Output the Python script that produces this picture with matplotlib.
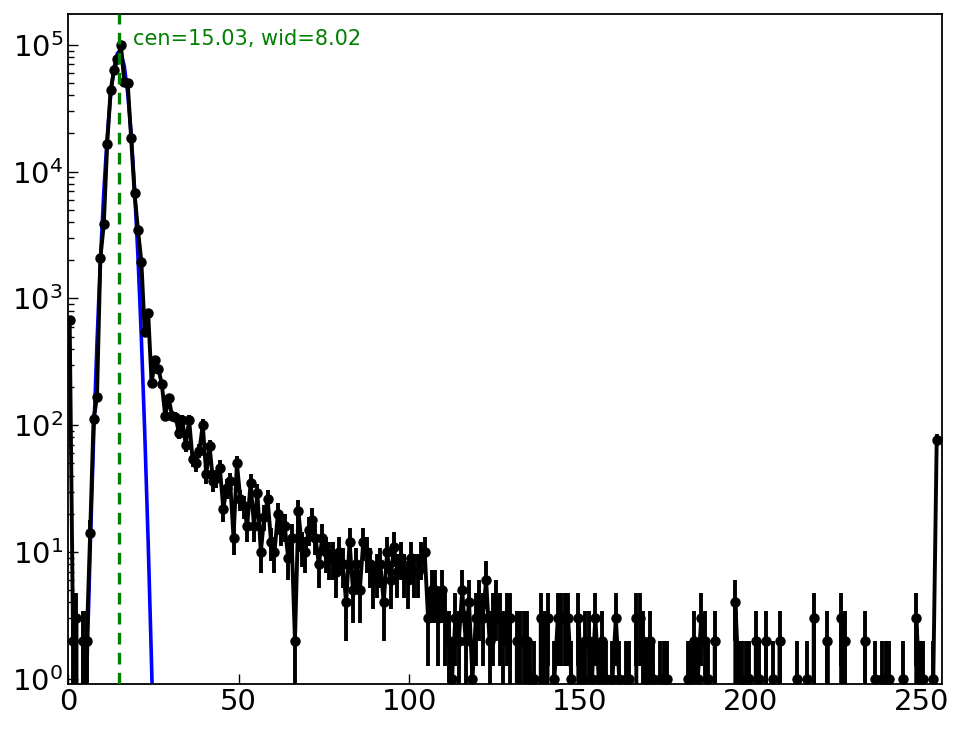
import numpy as np
import matplotlib
matplotlib.use("Agg")
import matplotlib.pyplot as plt

# histogram counts, one per bin (bin centres at i + 0.5)
counts_peak = [680, 2, 3, 0, 2, 2, 14, 111, 167, 2080,
               3860, 16600, 43800, 63100, 76700, 100000, 50900, 50100, 18400, 6740,
               3480, 1950, 540, 770, 216, 325, 278, 210, 118, 164,
               118, 117, 87, 110, 70, 110, 54, 50, 63, 101,
               41, 68, 36, 38, 46, 22, 32, 36, 13, 50]
counts_mid = [26, 23, 16, 35, 16, 29, 10, 19, 26, 12,
              10, 20, 15, 16, 9, 13, 2, 21, 11, 10,
              15, 18, 13, 8, 13, 10, 9, 9, 7, 10,
              8, 4, 12, 5, 8, 5, 12, 10, 8, 6,
              7, 8, 4, 10, 6, 11, 7, 9, 7, 6,
              9, 7, 7, 9, 10, 3, 5, 5, 3, 5]
counts_tail1 = [3, 2, 1, 3, 2, 5, 2, 4, 1, 3,
                4, 3, 6, 2, 3, 4, 3, 2, 3, 3,
                0, 2, 2, 2, 2, 1, 1, 0, 3, 2,
                3, 0, 1, 3, 3, 3, 3, 1, 0, 3,
                1, 2, 2, 1, 3, 1, 2, 1, 0, 1,
                3, 1, 0, 1, 1, 0, 3, 3, 2, 1,
                2, 1, 0, 1, 1, 1, 0, 0, 0, 0,
                0, 1, 1, 2, 1, 3, 2, 1, 0, 2]
counts_tail2 = [0, 0, 0, 0, 0, 4, 1, 1, 1, 1,
                0, 2, 1, 0, 2, 0, 1, 0, 2, 0,
                0, 0, 0, 1, 0, 0, 1, 0, 3, 0,
                0, 0, 2, 0, 0, 0, 3, 2, 0, 0,
                0, 0, 0, 2, 0, 0, 1, 0, 1, 1,
                1, 0, 0, 0, 1, 0, 0, 0, 3, 1,
                1, 0, 0, 1, 77]
counts = np.array(counts_peak + counts_mid + counts_tail1 + counts_tail2, dtype=float)
bins = np.arange(len(counts)) + 0.5

# gaussian fit as drawn (values at bin centres 3.5 .. 26.5)
fit_x = [3.5, 4.5, 5.5, 6.5, 7.5, 8.5, 9.5, 10.5, 11.5, 12.5, 13.5, 14.5,
         15.5, 16.5, 17.5, 18.5, 19.5, 20.5, 21.5, 22.5, 23.5, 24.5, 25.5, 26.5]
fit_y = [0.0059, 0.091, 1.11, 10.4, 76.9, 443, 1980, 6920, 18900, 40100, 66500, 85900,
         86500, 67900, 41600, 19900, 7410, 2150, 488, 86.1, 11.9, 1.27, 0.106, 0.0069]
cen, wid = 15.03, 8.02

fig = plt.figure(figsize=(9.64, 7.29), dpi=100)
ax = fig.add_axes([0.0705, 0.0617, 0.9065, 0.9192])

ax.plot(fit_x, fit_y, color='b', lw=2.6, zorder=2)
ax.errorbar(bins, counts, yerr=np.sqrt(counts), fmt='o-', color='k',
            lw=2.8, elinewidth=2.8, ms=6.5, capsize=0, zorder=3)
ax.axvline(cen, color='g', ls='--', lw=2.4, dashes=(3.5, 2.5), zorder=4)
ax.text(cen + 3.9, 1.0e5, f"cen={cen:.2f}, wid={wid:.2f}", color='g',
        fontsize=15, va='baseline', ha='left')

ax.set_yscale('log')
ax.set_xlim(0, 256)
ax.set_ylim(0.91, 1.75e5)
ax.tick_params(which='both', direction='in', top=False, right=False, labelsize=21)
ax.tick_params(which='major', length=7, width=1)
ax.tick_params(which='minor', length=4, width=1)
ax.tick_params(axis='x', pad=3)
for sp in ax.spines.values():
    sp.set_linewidth(1.3)

fig.savefig("out.png", dpi=100)
